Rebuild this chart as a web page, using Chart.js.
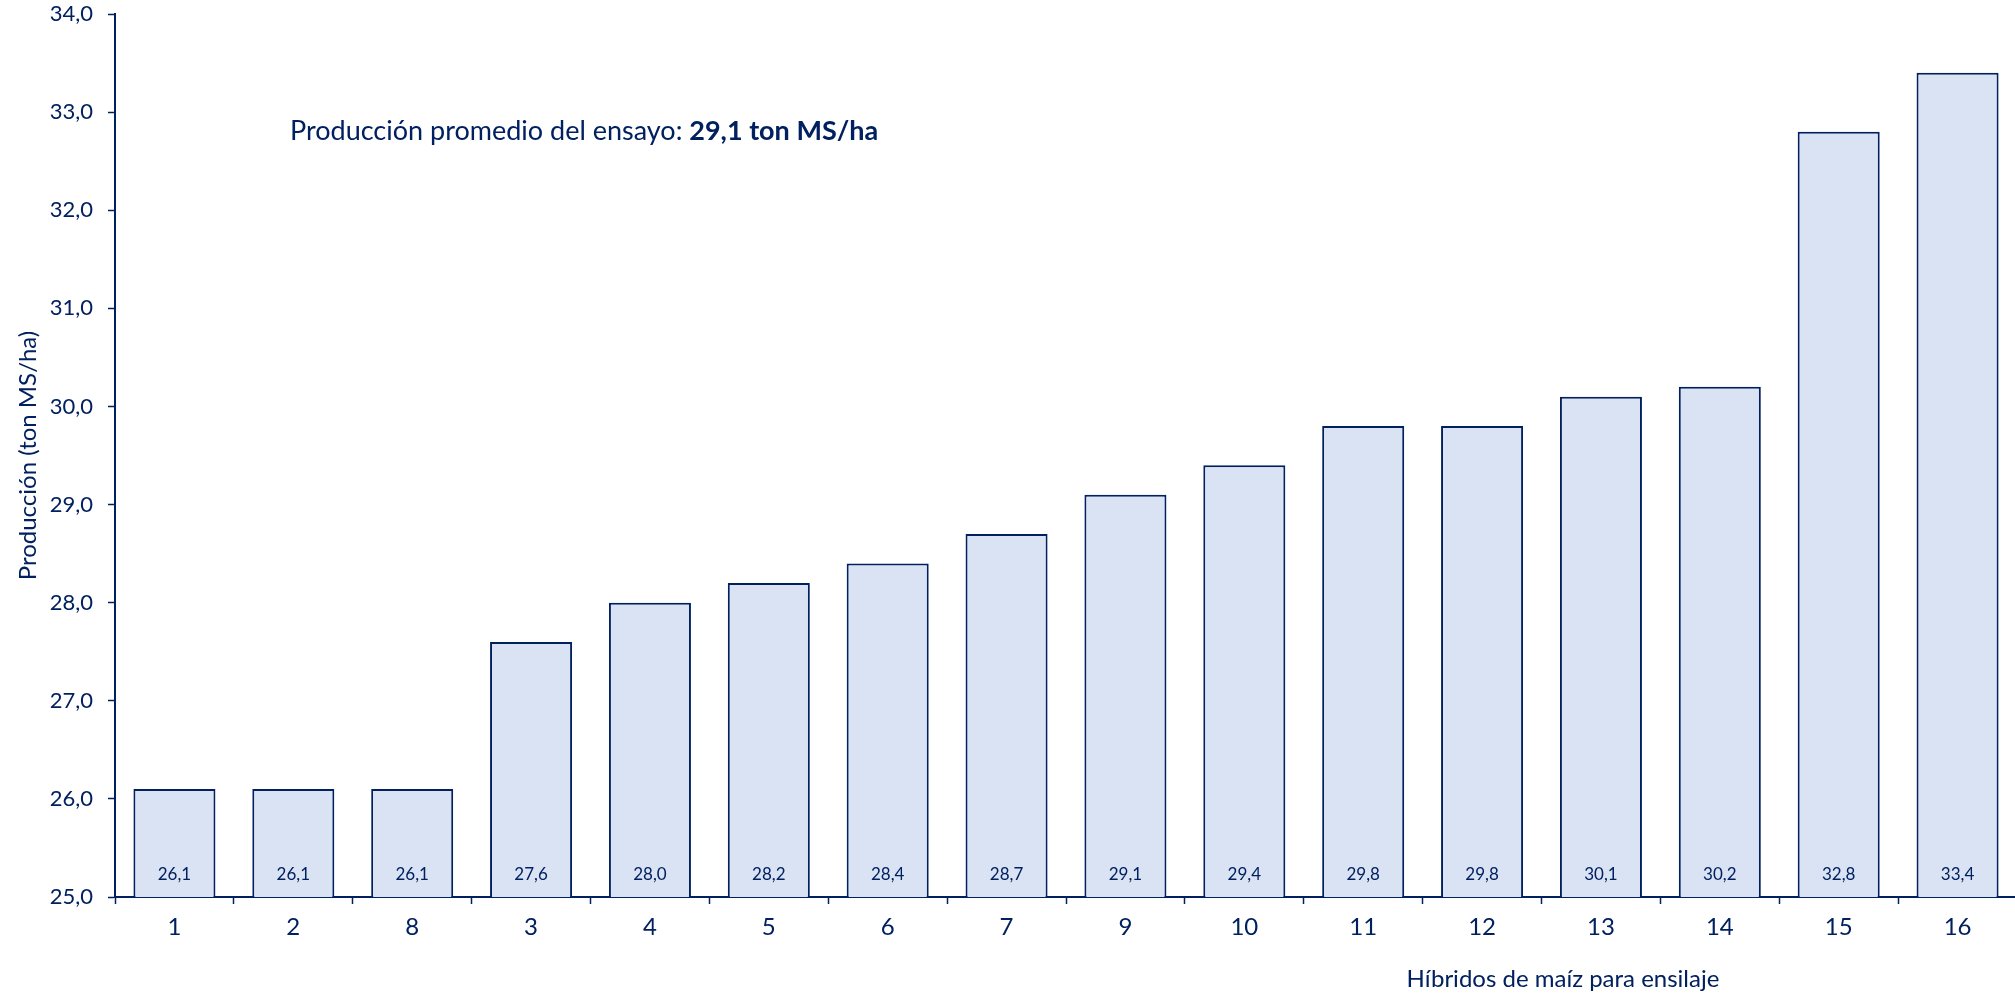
<!DOCTYPE html>
<html>
<head>
<meta charset="utf-8">
<script src="https://cdn.jsdelivr.net/npm/chart.js@4.4.1/dist/chart.umd.min.js"></script>
<style>
  html, body { margin: 0; padding: 0; background: #fff; overflow: hidden; }
  #wrap { position: relative; width: 2020px; height: 996px; }
</style>
</head>
<body>
<div id="wrap"><canvas id="chart"></canvas></div>
<script>
// hybrids in ranking order and their dry matter yield (ton MS/ha)
const hybrids = ['1', '2', '8', '3', '4', '5', '6', '7', '9', '10', '11', '12', '13', '14', '15', '16'];
const production = [26.1, 26.1, 26.1, 27.6, 28.0, 28.2, 28.4, 28.7, 29.1, 29.4, 29.8, 29.8, 30.1, 30.2, 32.8, 33.4];
const yMin = 25;
const yMax = 34;
const yStep = 1;
const averageLabel = 'Producción promedio del ensayo: ';
const averageValue = '29,1 ton MS/ha';
const yTitle = 'Producción (ton MS/ha)';
const xTitle = 'Híbridos de maíz para ensilaje';

const NAVY = '#002060';
const BAR_FILL = '#DAE3F3';
const FONT = 'Lato, "Open Sans", sans-serif';

function comma(v) {
    return v.toFixed(1).replace('.', ',');
}

const textPlugin = {
    id: 'chartTexts',
    afterDatasetsDraw(chart) {
        const ctx = chart.ctx;
        const y = chart.scales.y;
        const meta = chart.getDatasetMeta(0);
        ctx.save();
        ctx.fillStyle = NAVY;
        ctx.font = '17px ' + FONT;
        ctx.textAlign = 'center';
        ctx.textBaseline = 'middle';
        const base = y.getPixelForValue(yMin);
        meta.data.forEach((bar, i) => {
            ctx.fillText(comma(production[i]), bar.x, base - 22);
        });
        ctx.restore();
    },
    afterDraw(chart) {
        const ctx = chart.ctx;
        const area = chart.chartArea;
        ctx.save();
        ctx.fillStyle = NAVY;
        ctx.textBaseline = 'middle';

        // average note
        ctx.textAlign = 'left';
        ctx.font = '27px ' + FONT;
        const nx = 290, ny = 131;
        ctx.fillText(averageLabel, nx, ny);
        const w = ctx.measureText(averageLabel).width;
        ctx.font = 'bold 27px ' + FONT;
        ctx.fillText(averageValue, nx + w, ny);

        // axis titles
        ctx.font = '24px ' + FONT;
        ctx.textAlign = 'center';
        ctx.fillText(xTitle, 1563, 979);

        ctx.translate(28, (area.top + area.bottom) / 2);
        ctx.rotate(-Math.PI / 2);
        ctx.fillText(yTitle, 0, 0);
        ctx.restore();
    }
};

new Chart(document.getElementById('chart'), {
    type: 'bar',
    data: {
        labels: hybrids,
        datasets: [{
            data: production,
            backgroundColor: BAR_FILL,
            borderColor: NAVY,
            borderWidth: 2,
            borderSkipped: false,
            categoryPercentage: 1,
            barPercentage: 0.69
        }]
    },
    options: {
        responsive: true,
        maintainAspectRatio: false,
        animation: false,
        layout: {
            padding: { top: 14, right: 3, left: 0, bottom: 0 }
        },
        scales: {
            x: {
                grid: {
                    display: true,
                    drawOnChartArea: false,
                    offset: true,
                    tickLength: 7,
                    tickWidth: 1.5,
                    color: NAVY
                },
                border: { display: true, color: NAVY, width: 2 },
                ticks: {
                    color: NAVY,
                    font: { family: FONT, size: 24 },
                    padding: 9,
                    maxRotation: 0
                },
                afterFit(scale) {
                    scale.height = 99;
                    scale.paddingLeft = 0;
                    scale.paddingRight = 0;
                }
            },
            y: {
                min: yMin,
                max: yMax,
                grid: {
                    display: true,
                    drawOnChartArea: false,
                    tickLength: 7,
                    tickWidth: 1.5,
                    color: NAVY
                },
                border: { display: true, color: NAVY, width: 2 },
                ticks: {
                    stepSize: yStep,
                    color: NAVY,
                    font: { family: FONT, size: 22 },
                    padding: 15,
                    callback: (v) => comma(v)
                },
                afterFit(scale) {
                    scale.width = 115;
                    scale.paddingTop = 0;
                    scale.paddingBottom = 0;
                }
            }
        },
        plugins: {
            legend: { display: false },
            tooltip: { enabled: false }
        }
    },
    plugins: [textPlugin]
});
</script>
</body>
</html>
